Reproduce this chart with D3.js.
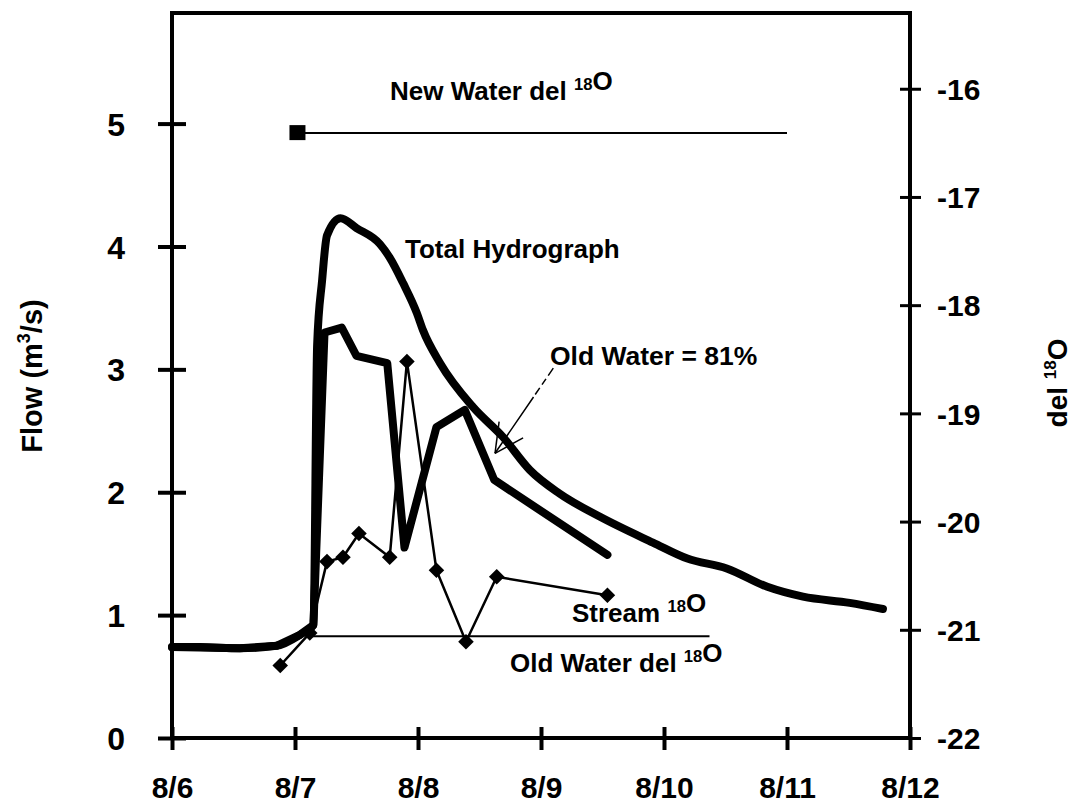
<!DOCTYPE html>
<html>
<head>
<meta charset="utf-8">
<script src="https://cdn.jsdelivr.net/npm/d3@7"></script>
<style>
  html, body { margin: 0; padding: 0; background: #fff; }
  svg { display: block; font-family: "Liberation Sans", Arial, Helvetica, sans-serif; font-weight: bold; }
</style>
</head>
<body>
<svg id="chart" width="1074" height="806"></svg>
<script>
// Days are counted from midnight of 8/6.
const dayTicks = [0, 1, 2, 3, 4, 5, 6];
const dayLabels = ["8/6", "8/7", "8/8", "8/9", "8/10", "8/11", "8/12"];
const flowTicks = [0, 1, 2, 3, 4, 5];
const delTicks = [-22, -21, -20, -19, -18, -17, -16];

// Total hydrograph: [day, flow m3/s]
const totalDay  = [0.00, 0.23, 0.55, 0.85, 1.04, 1.15, 1.18, 1.22, 1.26, 1.37, 1.50, 1.69, 1.77, 1.88, 1.99, 2.04, 2.18, 2.45, 2.69, 2.91, 3.15, 3.48, 3.91, 4.19, 4.51, 4.84, 5.13, 5.51, 5.78];
const totalFlow = [0.74, 0.74, 0.73, 0.75, 0.84, 0.92, 3.20, 3.72, 4.09, 4.23, 4.15, 4.02, 3.91, 3.70, 3.46, 3.32, 3.05, 2.69, 2.45, 2.18, 1.99, 1.80, 1.59, 1.46, 1.38, 1.23, 1.15, 1.10, 1.05];

// Old-water hydrograph: [day, flow m3/s]
const oldDay  = [0.00, 0.55, 0.85, 1.04, 1.15, 1.24, 1.38, 1.50, 1.75, 1.89, 2.15, 2.38, 2.62, 3.54];
const oldFlow = [0.74, 0.73, 0.75, 0.84, 0.92, 3.30, 3.34, 3.11, 3.05, 1.55, 2.53, 2.67, 2.10, 1.49];

// Stream del 18O samples: [day, permil]
const streamDay = [0.88, 1.12, 1.26, 1.39, 1.52, 1.77, 1.91, 2.15, 2.39, 2.64, 3.54];
const streamDel = [-21.33, -21.03, -20.37, -20.33, -20.11, -20.33, -18.52, -20.45, -21.11, -20.51, -20.68];

// End-member compositions
const newWaterDel = -16.41;
const newWaterSpan = [1.02, 5.0];
const oldWaterDel = -21.06;
const oldWaterSpan = [1.12, 4.37];

const svg = d3.select("#chart");
const L = 172, R = 910, T = 13, B = 738;

const x = d3.scaleLinear().domain([0, 6]).range([L, R]);
const yFlow = d3.scaleLinear().domain([0, 5.9]).range([B, T]);
const yDel = d3.scaleLinear().domain([-22, -15.3]).range([B, T]);

const ink = "#000";
const plain = d => String(d);   // keep an ASCII hyphen for negatives

// Frame
svg.append("rect")
  .attr("x", L).attr("y", T).attr("width", R - L).attr("height", B - T)
  .attr("fill", "none").attr("stroke", ink).attr("stroke-width", 4);

// Axes with ticks crossing the frame
const gx = svg.append("g").attr("transform", `translate(0,${B})`)
  .call(d3.axisBottom(x).tickValues(dayTicks).tickFormat((d, i) => dayLabels[i]).tickSize(11).tickPadding(0));
gx.select(".domain").remove();
gx.selectAll(".tick line").attr("y1", -11).attr("y2", 12).attr("stroke", ink).attr("stroke-width", 4);
gx.selectAll(".tick text").attr("y", 60).attr("dy", 0).attr("font-size", 30).attr("fill", ink)
  .attr("font-family", "Liberation Sans, Arial, sans-serif").attr("font-weight", "bold");

const gl = svg.append("g").attr("transform", `translate(${L},0)`)
  .call(d3.axisLeft(yFlow).tickValues(flowTicks).tickFormat(plain).tickSize(14));
gl.select(".domain").remove();
gl.selectAll(".tick line").attr("x1", -14).attr("x2", 14).attr("stroke", ink).attr("stroke-width", 4);
gl.selectAll(".tick text").attr("x", -47).attr("dy", "0.36em").attr("font-size", 32).attr("fill", ink)
  .attr("font-family", "Liberation Sans, Arial, sans-serif").attr("font-weight", "bold");

const gr = svg.append("g").attr("transform", `translate(${R},0)`)
  .call(d3.axisRight(yDel).tickValues(delTicks).tickFormat(plain).tickSize(10));
gr.select(".domain").remove();
gr.selectAll(".tick line").attr("x1", -10).attr("x2", 11).attr("stroke", ink).attr("stroke-width", 3);
gr.selectAll(".tick text").attr("x", 27).attr("dy", "0.36em").attr("font-size", 30).attr("fill", ink)
  .attr("font-family", "Liberation Sans, Arial, sans-serif").attr("font-weight", "bold");

// Axis titles
const flowTitle = svg.append("text")
  .attr("transform", `translate(42,376) rotate(-90)`)
  .attr("text-anchor", "middle").attr("font-size", 29).attr("fill", ink);
flowTitle.append("tspan").text("Flow (m");
flowTitle.append("tspan").attr("dy", -12).attr("font-size", 18).text("3");
flowTitle.append("tspan").attr("dy", 12).text("/s)");

const delTitle = svg.append("text")
  .attr("transform", `translate(1067,383) rotate(-90)`)
  .attr("text-anchor", "middle").attr("font-size", 28).attr("fill", ink);
delTitle.append("tspan").text("del ");
delTitle.append("tspan").attr("dy", -11).attr("font-size", 17).text("18");
delTitle.append("tspan").attr("dy", 11).text("O");

// End-member lines
svg.append("line")
  .attr("x1", x(newWaterSpan[0])).attr("x2", x(newWaterSpan[1]))
  .attr("y1", yDel(newWaterDel)).attr("y2", yDel(newWaterDel))
  .attr("stroke", ink).attr("stroke-width", 2);
svg.append("rect")
  .attr("x", x(newWaterSpan[0]) - 8).attr("y", yDel(newWaterDel) - 8)
  .attr("width", 16).attr("height", 15).attr("fill", ink);

svg.append("line")
  .attr("x1", x(oldWaterSpan[0])).attr("x2", x(oldWaterSpan[1]))
  .attr("y1", yDel(oldWaterDel)).attr("y2", yDel(oldWaterDel))
  .attr("stroke", ink).attr("stroke-width", 2);

// Hydrographs
const flowLine = d3.line().x(d => x(d[0])).y(d => yFlow(d[1]));
const totalPts = totalDay.map((d, i) => [d, totalFlow[i]]);
const oldPts = oldDay.map((d, i) => [d, oldFlow[i]]);

svg.append("path").datum(oldPts).attr("d", flowLine)
  .attr("fill", "none").attr("stroke", ink).attr("stroke-width", 8)
  .attr("stroke-linejoin", "round").attr("stroke-linecap", "round");
svg.append("path").datum(totalPts).attr("d", flowLine.curve(d3.curveMonotoneX))
  .attr("fill", "none").attr("stroke", ink).attr("stroke-width", 8)
  .attr("stroke-linejoin", "round").attr("stroke-linecap", "round");

// Stream del 18O
const streamPts = streamDay.map((d, i) => [d, streamDel[i]]);
const delLine = d3.line().x(d => x(d[0])).y(d => yDel(d[1]));
svg.append("path").datum(streamPts).attr("d", delLine)
  .attr("fill", "none").attr("stroke", ink).attr("stroke-width", 2.5).attr("stroke-linejoin", "round");
svg.selectAll("rect.diamond").data(streamPts).join("rect")
  .attr("class", "diamond")
  .attr("x", -5.5).attr("y", -5.5).attr("width", 11).attr("height", 11)
  .attr("transform", d => `translate(${x(d[0])},${yDel(d[1])}) rotate(45)`)
  .attr("fill", ink);

// Labels
function label(px, py, parts, size) {
  const t = svg.append("text").attr("x", px).attr("y", py).attr("font-size", size).attr("fill", ink);
  parts.forEach(p => {
    if (p.sup) {
      t.append("tspan").attr("dy", -10).attr("font-size", size * 0.64).text(p.sup);
      t.append("tspan").attr("dy", 10).text("");
    } else {
      t.append("tspan").text(p.t);
    }
  });
  return t;
}
label(390, 100, [{t: "New Water del "}, {sup: "18"}, {t: "O"}], 26);
label(405, 258, [{t: "Total Hydrograph"}], 26);
label(550, 365, [{t: "Old Water = 81%"}], 26.5);
label(572, 622, [{t: "Stream "}, {sup: "18"}, {t: "O"}], 26);
label(510, 672, [{t: "Old Water del "}, {sup: "18"}, {t: "O"}], 26);

// Leader arrow pointing at the old-water curve
const tail = [3.10, 3.01], tip = [2.626, 2.317];
const tx = x(tail[0]), ty = yFlow(tail[1]), hx = x(tip[0]), hy = yFlow(tip[1]);
svg.append("line").attr("x1", tx).attr("y1", ty).attr("x2", hx).attr("y2", hy)
  .attr("stroke", ink).attr("stroke-width", 1.5).attr("stroke-dasharray", "9,4,7,4,8,3,200");
const ang = Math.atan2(ty - hy, tx - hx);
const headLen = 32, spread = 27 * Math.PI / 180;
[ang - spread, ang + spread].forEach(a => {
  svg.append("line").attr("x1", hx).attr("y1", hy)
    .attr("x2", hx + headLen * Math.cos(a)).attr("y2", hy + headLen * Math.sin(a))
    .attr("stroke", ink).attr("stroke-width", 1.5);
});
</script>
</body>
</html>
